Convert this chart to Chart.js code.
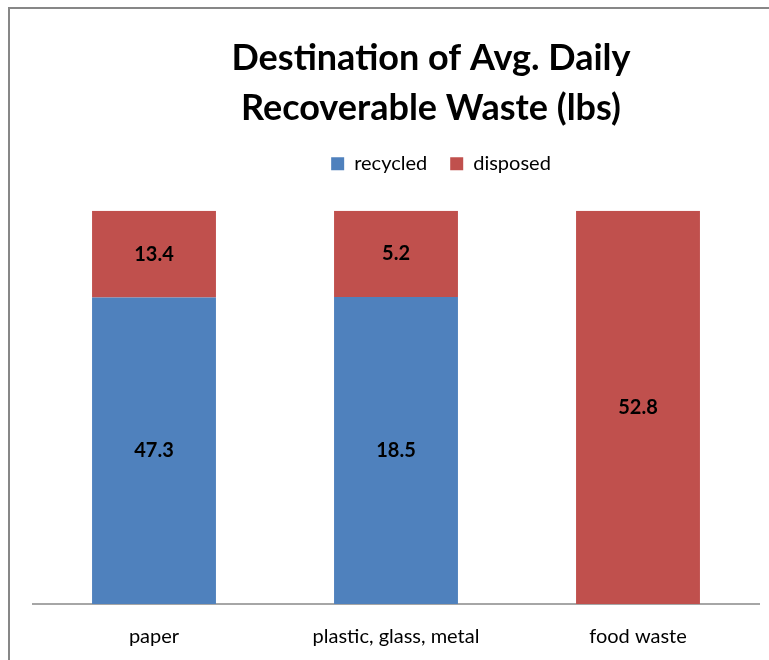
<!DOCTYPE html>
<html lang="en">
<head>
    <meta charset="UTF-8">
    <title>Destination of Avg. Daily Recoverable Waste</title>
    <script src="https://cdn.jsdelivr.net/npm/chart.js"></script>
    <style>
        html, body { margin: 0; padding: 0; background: #fff; overflow: hidden; }
        canvas { display: block; }
    </style>
</head>
<body>
    <canvas id="wasteChart" width="769" height="660"></canvas>

    <script>
        // data (lbs)
        const categories = ['paper', 'plastic, glass, metal', 'food waste'];
        const recycled = [47.3, 18.5, 0];
        const disposed = [13.4, 5.2, 52.8];

        // 100% stacked: each bar shown as share of its total
        const totals = categories.map((_, i) => recycled[i] + disposed[i]);
        const recycledPct = recycled.map((v, i) => v / totals[i] * 100);
        const disposedPct = disposed.map((v, i) => v / totals[i] * 100);

        const FONT = 'Lato';

        // chart frame: only its left and top edges are in view
        const frame = {
            id: 'frame',
            beforeDraw(chart) {
                const ctx = chart.ctx;
                ctx.save();
                ctx.fillStyle = '#878787';
                ctx.fillRect(8, 7, 2, chart.height);
                ctx.fillRect(8, 7, chart.width - 8, 2);
                ctx.restore();
            }
        };

        // title + legend sit centred on the whole (wider) frame, not the plot
        const shiftHeader = {
            id: 'shiftHeader',
            afterLayout(chart) {
                const t = chart.titleBlock, l = chart.legend;
                t.left += 35; t.right += 35;
                l.left += 45; l.right += 45;
                l.top -= 3; l.bottom -= 3;
            }
        };

        // value labels in the middle of each segment
        const segmentLabels = {
            id: 'segmentLabels',
            afterDatasetsDraw(chart) {
                const ctx = chart.ctx;
                const raw = [recycled, disposed];
                ctx.save();
                ctx.font = 'bold 20px ' + FONT;
                ctx.fillStyle = '#000';
                ctx.textAlign = 'center';
                ctx.textBaseline = 'middle';
                chart.data.datasets.forEach((ds, di) => {
                    chart.getDatasetMeta(di).data.forEach((bar, i) => {
                        if (!raw[di][i]) return;
                        ctx.fillText(raw[di][i].toFixed(1), bar.x, (bar.y + bar.base) / 2);
                    });
                });
                ctx.restore();
            }
        };

        new Chart(document.getElementById('wasteChart'), {
            type: 'bar',
            data: {
                labels: categories,
                datasets: [
                    {
                        label: 'recycled',
                        data: recycledPct,
                        backgroundColor: '#4f81bd'
                    },
                    {
                        label: 'disposed',
                        data: disposedPct,
                        backgroundColor: '#c0504d'
                    }
                ]
            },
            options: {
                responsive: false,
                animation: false,
                categoryPercentage: 1,
                barPercentage: 0.512,
                layout: { padding: { left: 33, right: 10, top: 0, bottom: 0 } },
                plugins: {
                    title: {
                        display: true,
                        text: ['Destination of Avg. Daily', 'Recoverable Waste (lbs)'],
                        color: '#000',
                        font: { family: FONT, size: 36, weight: 'bold', lineHeight: 1.4 },
                        padding: { top: 33, bottom: 0 }
                    },
                    legend: {
                        position: 'top',
                        labels: {
                            color: '#000',
                            font: { family: FONT, size: 20 },
                            boxWidth: 13,
                            boxHeight: 13,
                            padding: 23
                        }
                    },
                    tooltip: { enabled: false }
                },
                scales: {
                    x: {
                        stacked: true,
                        grid: { display: false, drawTicks: false },
                        border: { color: '#a6a6a6', width: 2 },
                        ticks: { color: '#000', font: { family: FONT, size: 20 }, padding: 21 },
                        afterFit(scale) { scale.height = 56; }
                    },
                    // empty top axis, only used as a gap under the legend
                    gap: {
                        type: 'category',
                        position: 'top',
                        display: true,
                        grid: { display: false },
                        border: { display: false },
                        ticks: { display: false },
                        afterFit(scale) { scale.height = 24; }
                    },
                    y: {
                        stacked: true,
                        display: false,
                        min: 0,
                        max: 100
                    }
                }
            },
            plugins: [frame, shiftHeader, segmentLabels]
        });
    </script>
</body>
</html>
